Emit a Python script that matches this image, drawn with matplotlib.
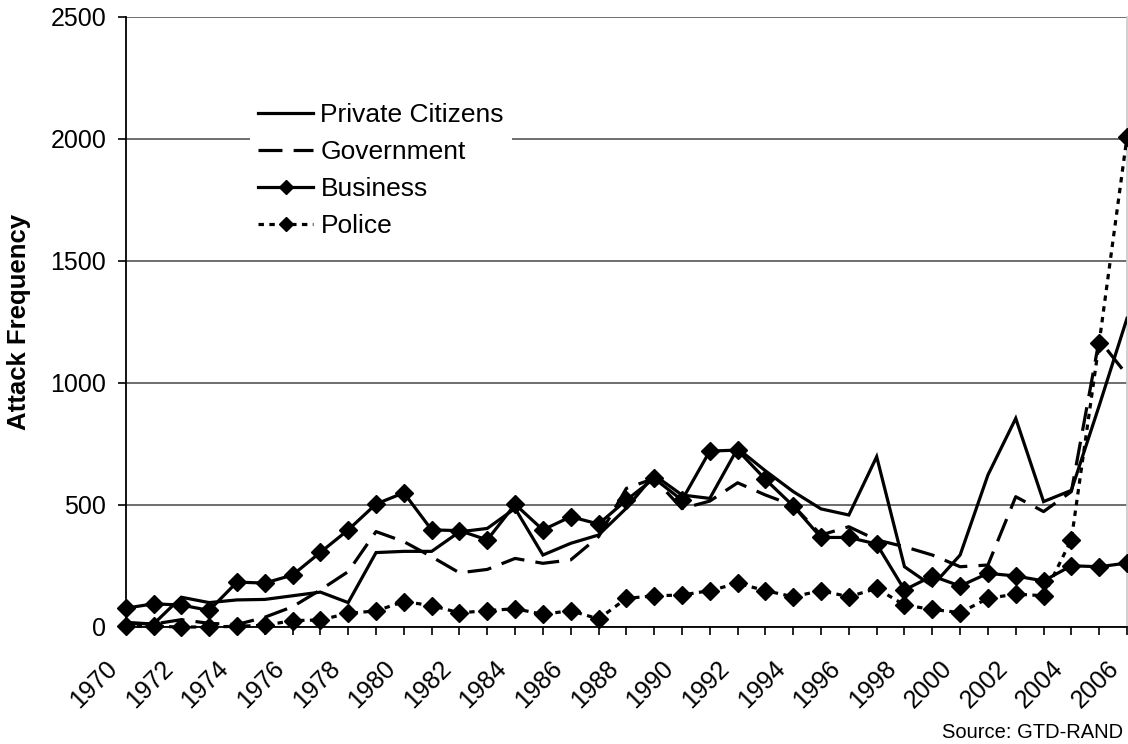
import matplotlib
matplotlib.use("Agg")
import matplotlib.pyplot as plt
import matplotlib.transforms as mtransforms

plt.rcParams['font.family'] = ['Liberation Sans', 'DejaVu Sans']

years = list(range(1970, 2007))

private_citizens = [19, 12, 122, 100, 111, 113, 128, 143, 100, 305,
                    310, 310, 390, 404, 486, 295, 343, 377, 487, 623,
                    541, 527, 732, 640, 555, 484, 459, 698, 247, 168,
                    295, 623, 855, 514, 560, 907, 1265]

government = [16, 12, 30, 15, 10, 40, 83, 152, 227, 391,
              350, 288, 222, 236, 281, 261, 275, 370, 568, 609,
              485, 516, 591, 541, 498, 377, 411, 357, 329, 295,
              247, 254, 534, 473, 555, 1177, 1033]

business = [77, 95, 90, 68, 184, 180, 213, 306, 398, 504,
            550, 398, 395, 357, 503, 398, 452, 422, 520, 609,
            520, 721, 725, 605, 496, 367, 367, 340, 152, 209,
            168, 220, 209, 189, 251, 247, 262]

police = [3, 3, 0, 0, 3, 7, 26, 29, 56, 66,
          104, 88, 58, 67, 75, 52, 67, 33, 117, 128,
          131, 149, 179, 149, 124, 149, 124, 158, 90, 72,
          59, 117, 135, 128, 358, 1165, 2009]

y_ticks = [0, 500, 1000, 1500, 2000, 2500]
x_labels = [str(y) if (y - 1970) % 2 == 0 else "" for y in years]

W, H = 1128, 744
fig = plt.figure(figsize=(W / 100, H / 100), dpi=100)
ax = fig.add_axes([125.7 / W, 1 - 627 / H, (1127 - 125.7) / W, 610 / H])

lw = 2.3
ms = 8.8
ax.plot(years, private_citizens, color='black', lw=lw, label='Private Citizens',
        solid_joinstyle='miter', zorder=3)
ax.plot(years, government, color='black', lw=lw, dashes=(7.5, 3.5),
        label='Government', zorder=3)
ax.plot(years, business, color='black', lw=lw, marker='D', markersize=ms,
        label='Business', clip_on=False, zorder=4)
ax.plot(years, police, color='black', lw=lw, dashes=(1.7, 1.7), marker='D',
        markersize=ms, label='Police', clip_on=False, zorder=4)

ax.set_xlim(1970, 2006)
ax.set_ylim(0, 2500)
ax.set_yticks(y_ticks)
ax.set_xticks(years)
ax.set_xticklabels(x_labels)

ax.yaxis.grid(True, color='#555555', lw=1.2)
ax.set_axisbelow(True)
ax.spines['top'].set_visible(False)
ax.spines['right'].set_color('#c8c8c8')
ax.spines['right'].set_linewidth(1.2)
ax.spines['left'].set_linewidth(1.3)
ax.spines['bottom'].set_linewidth(1.3)

ax.tick_params(axis='y', direction='out', length=6, width=1.2, labelsize=18, pad=8)
ax.tick_params(axis='x', direction='out', length=6, width=1.2, labelsize=18, pad=0)

offset = mtransforms.ScaledTranslation(-12 / 100, -29 / 100, fig.dpi_scale_trans)
for lab in ax.get_xticklabels():
    lab.set_rotation(45)
    lab.set_ha('right')
    lab.set_va('center')
    lab.set_rotation_mode('anchor')
    lab.set_transform(lab.get_transform() + offset)

ax.set_ylabel('Attack Frequency', fontsize=18.5, fontweight='bold', labelpad=14)

leg = ax.legend(loc='upper left', bbox_to_anchor=(250 / W, 1 - 95 / H),
                bbox_transform=fig.transFigure, fontsize=19, frameon=True,
                fancybox=False, edgecolor='none', facecolor='white', framealpha=1,
                handlelength=2.1, handletextpad=0.27, labelspacing=0.5,
                borderpad=0.3, borderaxespad=0, markerscale=0.8)

fig.text(1123 / W, 1 - 732 / H, 'Source: GTD-RAND', fontsize=14.5,
         ha='right', va='center')

fig.savefig('out.png', dpi=100)
